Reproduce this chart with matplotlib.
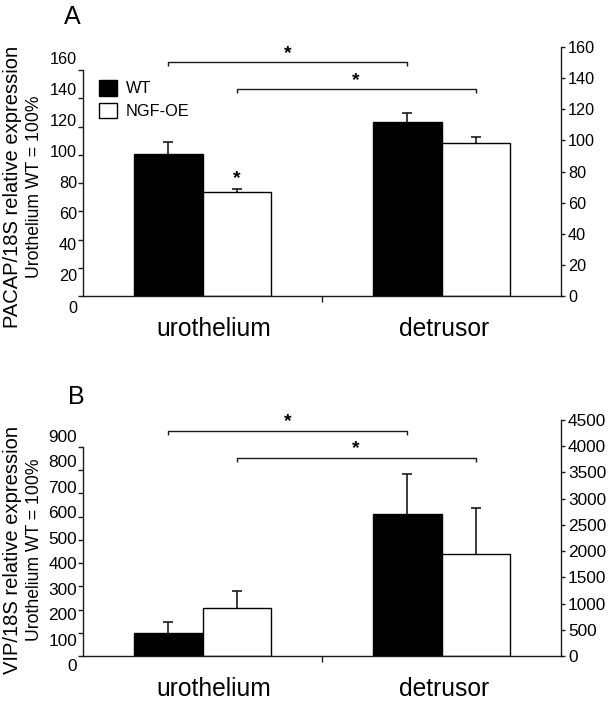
import matplotlib
matplotlib.use('Agg')
import matplotlib.pyplot as plt
import numpy as np

plt.rcParams['font.family'] = ['Liberation Sans', 'DejaVu Sans']

# ---------------- data ----------------
categories = ['urothelium', 'detrusor']
series = ['WT', 'NGF-OE']

pacap_wt = [100.3, 123.4]
pacap_wt_err = [8.5, 5.9]
pacap_ngf = [73.4, 108.5]
pacap_ngf_err = [2.6, 4.1]

vip_wt = [100, 610]
vip_wt_err = [48, 175]
vip_ngf = [206, 438]
vip_ngf_err = [72, 198]

pacap_left_ticks = [0, 20, 40, 60, 80, 100, 120, 140, 160]
pacap_right_ticks = [0, 20, 40, 60, 80, 100, 120, 140, 160]
vip_left_ticks = [0, 100, 200, 300, 400, 500, 600, 700, 800, 900]
vip_right_ticks = [0, 500, 1000, 1500, 2000, 2500, 3000, 3500, 4000, 4500]

# ---------------- layout ----------------
W, H = 612, 702
fig = plt.figure(figsize=(W / 100, H / 100), dpi=100)


def fr(x0, y_top, x1, y_bot):
    return [x0 / W, 1 - y_bot / H, (x1 - x0) / W, (y_bot - y_top) / H]


BAR_W = 0.285
LINE_C = '#1a1a1a'
CAT_LABEL_DX = [8, 2]   # horizontal offsets (points) of category labels


def upper_err(ax, xs, vals, errs):
    _, caps, _ = ax.errorbar(xs, vals, yerr=[np.zeros(len(vals)), errs], fmt='none',
                             ecolor=LINE_C, elinewidth=1.2, capsize=3.3,
                             capthick=1.2, zorder=1)
    # keep only the upper cap
    if len(caps) == 2:
        caps[0].set_visible(False)


def panel(letter, letter_xy, ylab1, ylab2, ylab_y, wt, wt_err, ngf, ngf_err,
          lticks, rticks, main_box, lab_box, right_box, tick_fs,
          brackets, extra_star=None, legend_at=None):
    ax = fig.add_axes(fr(*main_box))
    x = np.arange(len(categories))
    b1 = ax.bar(x - BAR_W / 2, wt, BAR_W, color='black', edgecolor='black',
                linewidth=1.0, label=series[0], zorder=2)
    b2 = ax.bar(x + BAR_W / 2, ngf, BAR_W, color='white', edgecolor='black',
                linewidth=1.0, label=series[1], zorder=2)
    upper_err(ax, x - BAR_W / 2, wt, wt_err)
    upper_err(ax, x + BAR_W / 2, ngf, ngf_err)
    ax.set_xlim(-0.5, len(categories) - 0.5)
    ax.set_ylim(lticks[0], lticks[-1])
    ax.patch.set_visible(False)
    for s in ['top', 'right']:
        ax.spines[s].set_visible(False)
    for s in ['left', 'bottom']:
        ax.spines[s].set_linewidth(1.0)
        ax.spines[s].set_color(LINE_C)
    ax.set_yticks(lticks)
    ax.tick_params(axis='y', labelleft=False, direction='out', length=3.5,
                   width=1.0, color=LINE_C)
    ax.set_xticks([0.5])
    ax.set_xticklabels([''])
    ax.tick_params(axis='x', which='major', direction='out', length=4, width=1.0,
                   color=LINE_C)
    for i, cat in enumerate(categories):
        ax.annotate(cat, xy=(x[i], 0), xycoords=('data', 'axes fraction'),
                    xytext=(CAT_LABEL_DX[i], -15), textcoords='offset points',
                    ha='center', va='top', fontsize=17.7)

    # tick labels for left axis (offset as in original)
    lab = fig.add_axes(fr(*lab_box))
    lab.set_ylim(lticks[0], lticks[-1])
    lab.set_yticks(lticks)
    lab.set_yticklabels([str(t) for t in lticks])
    lab.tick_params(axis='y', length=0, pad=4.3, labelsize=tick_fs)
    lab.set_xticks([])
    lab.patch.set_visible(False)
    for s in lab.spines.values():
        s.set_visible(False)

    # right axis
    r = fig.add_axes(fr(*right_box))
    r.set_xlim(-0.5, len(categories) - 0.5)
    r.set_ylim(rticks[0], rticks[-1])
    r.yaxis.tick_right()
    r.set_yticks(rticks)
    r.set_yticklabels([str(t) for t in rticks])
    r.tick_params(axis='y', direction='out', length=3, width=1.0, color=LINE_C,
                  pad=2, labelsize=tick_fs)
    r.set_xticks([])
    r.patch.set_visible(False)
    for s in ['top', 'left', 'bottom']:
        r.spines[s].set_visible(False)
    r.spines['right'].set_linewidth(1.0)
    r.spines['right'].set_color(LINE_C)

    # y labels
    fig.text(13 / W, 1 - ylab_y / H, ylab1, rotation=90, ha='center', va='center',
             fontsize=14.5)
    fig.text(35 / W, 1 - ylab_y / H, ylab2, rotation=90, ha='center', va='center',
             fontsize=12.7)
    # panel letter
    fig.text(letter_xy[0] / W, 1 - letter_xy[1] / H, letter, ha='center',
             va='center', fontsize=18)

    # significance brackets
    for (i0, i1, y, yend, ystar) in brackets:
        x0 = i0[0] + (-1 if i0[1] == 0 else 1) * BAR_W / 2
        x1 = i1[0] + (-1 if i1[1] == 0 else 1) * BAR_W / 2
        ax.plot([x0, x0, x1, x1], [yend, y, y, yend], color=LINE_C, lw=1.0,
                clip_on=False, solid_capstyle='butt')
        ax.text((x0 + x1) / 2, ystar, '*', ha='center', va='center',
                fontsize=14, fontweight='bold')
    if extra_star is not None:
        ax.text(extra_star[0], extra_star[1], '*', ha='center', va='center',
                fontsize=14, fontweight='bold')

    if legend_at is not None:
        ax.legend(handles=[b1, b2], loc='upper left',
                  bbox_to_anchor=(legend_at[0] / W, 1 - legend_at[1] / H),
                  bbox_transform=fig.transFigure, frameon=False, borderpad=0,
                  borderaxespad=0, handlelength=1.1, handleheight=1.1,
                  handletextpad=0.55, labelspacing=0.38, fontsize=11.7)
    return ax


panel('A', (72, 17), 'PACAP/18S relative expression', 'Urothelium WT = 100%', 187,
      pacap_wt, pacap_wt_err, pacap_ngf, pacap_ngf_err,
      pacap_left_ticks, pacap_right_ticks,
      (83, 70, 561, 296), (83, 58, 561, 306.5), (83, 47, 561, 296), 11.7,
      brackets=[((0, 0), (1, 0), 165.7, 162.9, 171.5),
                ((0, 1), (1, 1), 146.3, 143.5, 152.3)],
      extra_star=(BAR_W / 2, 82.8), legend_at=(99, 80))

panel('B', (76, 397), 'VIP/18S relative expression', 'Urothelium WT = 100%', 550,
      vip_wt, vip_wt_err, vip_ngf, vip_ngf_err,
      vip_left_ticks, vip_right_ticks,
      (83, 447, 561, 656), (83, 436, 561, 665), (83, 420, 561, 656), 12.4,
      brackets=[((0, 0), (1, 0), 970, 953, 1010),
                ((0, 1), (1, 1), 851, 834, 893)])

fig.savefig('out.png', dpi=100)
